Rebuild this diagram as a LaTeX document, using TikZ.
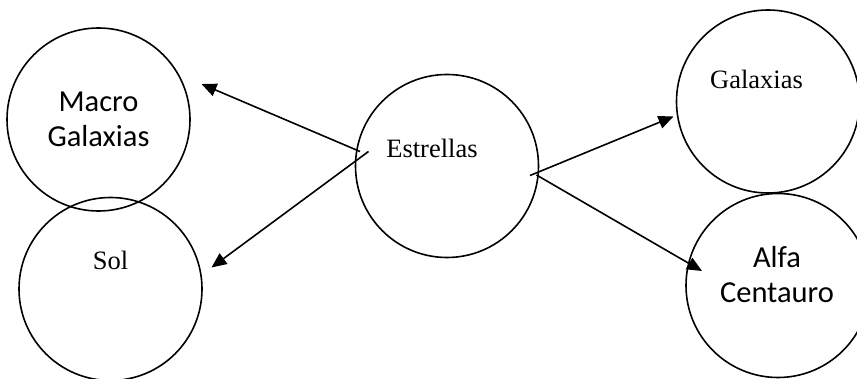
\documentclass[tikz,border=0pt]{standalone}
\usepackage{fontspec}
\setmainfont{Liberation Serif}
\newfontfamily\calib{Carlito}
\usetikzlibrary{arrows.meta}
\tikzset{
  bubble/.style={draw=black, line width=1.6pt, circle, inner sep=0pt, minimum size=183pt},
  serif/.style={font=\fontsize{26.5}{32}\selectfont, inner sep=0pt, anchor=base},
  sans/.style={font=\calib\fontsize{30.5}{35}\selectfont, inner sep=0pt, anchor=base, align=center},
  link/.style={line width=1.6pt, -{Triangle[length=15pt,width=13pt]}}
}
\begin{document}
\begin{tikzpicture}[x=1pt,y=-1pt]
\useasboundingbox[fill=white] (0,0) rectangle (857,379);
% circles
\node[bubble] (cMacro) at (98.5,119.5) {};
\node[bubble] (cSol) at (110.5,289) {};
\node[bubble] (cEst) at (447,166) {};
\node[bubble] (cGal) at (768,101.5) {};
\node[bubble, minimum size=184pt] (cAlfa) at (778,285.5) {};
% labels
\node[sans] (tMacro) at (98.5,147) {Macro\\Galaxias};
\node[serif] (tSol) at (110.5,270) {Sol};
\node[serif] (tEst) at (432,158) {Estrellas};
\node[serif] (tGal) at (756.5,89) {Galaxias};
\node[sans] (tAlfa) at (777,303) {Alfa\\Centauro};
% arrow endpoints
\coordinate (s1) at (360,151.5);
\coordinate (e1) at (201.5,84);
\coordinate (s2) at (368.5,151.5);
\coordinate (e2) at (211.5,267.5);
\coordinate (s3) at (530,175.5);
\coordinate (e3) at (673.5,116.5);
\coordinate (s4) at (536.5,175);
\coordinate (e4) at (702,271);
\draw[link] (s1) -- (e1);
\draw[link] (s2) -- (e2);
\draw[link] (s3) -- (e3);
\draw[link] (s4) -- (e4);
\end{tikzpicture}
\end{document}
